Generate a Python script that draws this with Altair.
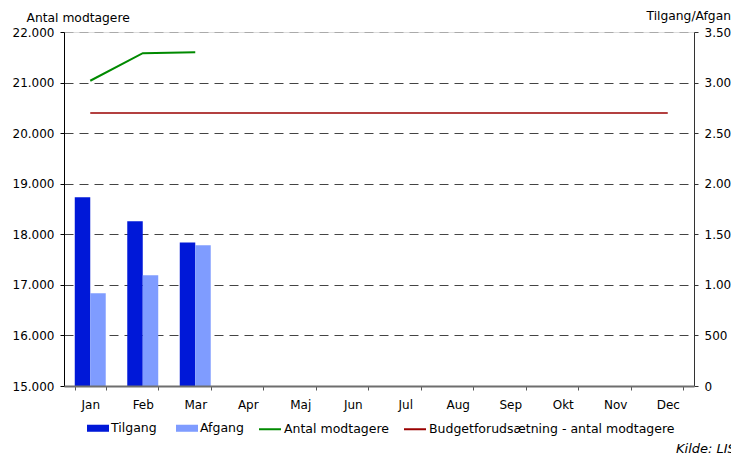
import altair as alt
import pandas as pd

months = ["Jan", "Feb", "Mar", "Apr", "Maj", "Jun", "Jul", "Aug", "Sep", "Okt", "Nov", "Dec"]

# Bars (right axis)
bar_months = ["Jan", "Feb", "Mar"]
tilgang = [1865, 1630, 1420]
afgang = [917, 1095, 1392]

# Lines (left axis)
antal_months = ["Jan", "Feb", "Mar"]
antal_modtagere = [21036, 21581, 21600]
budget = [20400, 20400, 20400, 20400, 20400, 20400, 20400, 20400, 20400, 20400, 20400, 20400]

bar_series = ["Tilgang", "Afgang"]
bar_colors = ["#0018d8", "#7f9cff"]
line_series = ["Antal modtagere", "Budgetforudsætning - antal modtagere"]
line_colors = ["#008a00", "#9a0000"]

left_ticks = [15000, 16000, 17000, 18000, 19000, 20000, 21000, 22000]
right_ticks = [0, 500, 1000, 1500, 2000, 2500, 3000, 3500]

bar_df = pd.DataFrame(
    [{"maaned": m, "serie": "Tilgang", "vaerdi": v} for m, v in zip(bar_months, tilgang)]
    + [{"maaned": m, "serie": "Afgang", "vaerdi": v} for m, v in zip(bar_months, afgang)]
)
line_df = pd.DataFrame(
    [{"maaned": m, "serie": line_series[0], "vaerdi": v} for m, v in zip(antal_months, antal_modtagere)]
    + [{"maaned": m, "serie": line_series[1], "vaerdi": v} for m, v in zip(months, budget)]
)

FONT = "DejaVu Sans"
dk_fmt = "replace(format(datum.value, ','), ',', '.')"

x_scale = alt.Scale(domain=months, paddingInner=0.41, paddingOuter=0.205)
x_axis = alt.Axis(
    title=None, labelAngle=0, tickBand="extent", domainColor="#6e6e6e", domainWidth=2,
    tickColor="#555555", tickSize=4, labelPadding=9, labelFont=FONT, labelFontSize=12,
    labelColor="#000000", grid=False, zindex=1,
)

lines = alt.Chart(line_df).mark_line().encode(
    x=alt.X("maaned:N", sort=months, scale=x_scale, axis=x_axis),
    y=alt.Y(
        "vaerdi:Q",
        scale=alt.Scale(domain=[15000, 22000], zero=False, nice=False),
        axis=alt.Axis(
            orient="left", values=left_ticks, labelExpr=dk_fmt,
            title="Antal modtagere", titleAngle=0, titleAlign="left", titleBaseline="alphabetic",
            titleX=-38, titleY=-11, titleFont=FONT, titleFontSize=12.3, titleFontWeight="normal",
            titleColor="#000000",
            labelFont=FONT, labelFontSize=12, labelColor="#000000", labelPadding=6,
            domainColor="#000000", tickColor="#000000", tickSize=4,
            grid=True, gridDash=[9, 6], gridWidth=1,
            gridColor=alt.condition("datum.value == 22000", alt.value("#aaaaaa"), alt.value("#444444")),
        ),
    ),
    stroke=alt.Stroke(
        "serie:N",
        scale=alt.Scale(domain=line_series, range=line_colors),
        legend=alt.Legend(
            title=None, orient="none", legendX=194, legendY=385, direction="horizontal",
            symbolType="stroke", symbolSize=484, symbolStrokeWidth=2, labelOffset=2,
            columnPadding=11, labelFont=FONT, labelFontSize=12.5, labelColor="#000000",
            labelLimit=400,
        ),
    ),
    strokeWidth=alt.StrokeWidth(
        "serie:N", scale=alt.Scale(domain=line_series, range=[2, 1.5]), legend=None
    ),
)

bars = alt.Chart(bar_df).mark_bar().encode(
    x=alt.X("maaned:N", sort=months, scale=x_scale, axis=x_axis),
    xOffset=alt.XOffset("serie:N", scale=alt.Scale(domain=bar_series, paddingInner=0)),
    y=alt.Y(
        "vaerdi:Q",
        scale=alt.Scale(domain=[0, 3500], nice=False),
        axis=alt.Axis(
            orient="right", values=right_ticks, labelExpr=dk_fmt,
            title="Tilgang/Afgang", titleAngle=0, titleAlign="left", titleBaseline="alphabetic",
            titleX=-48, titleY=-13, titleFont=FONT, titleFontSize=12.3, titleFontWeight="normal",
            titleColor="#000000",
            labelFont=FONT, labelFontSize=12, labelColor="#000000", labelPadding=6,
            domainColor="#333333", tickColor="#333333", tickSize=4, grid=False,
        ),
    ),
    color=alt.Color(
        "serie:N",
        scale=alt.Scale(domain=bar_series, range=bar_colors),
        sort=bar_series,
        legend=alt.Legend(
            title=None, orient="none", legendX=23, legendY=385, direction="horizontal",
            symbolType="M-1,-0.32H1V0.32H-1Z", symbolSize=484, symbolStrokeWidth=0,
            labelOffset=2, columnPadding=19, labelFont=FONT, labelFontSize=12.5,
            labelColor="#000000",
        ),
    ),
)

kilde = alt.Chart(pd.DataFrame({"t": ["Kilde: LIS"]})).mark_text(
    align="left", baseline="alphabetic", font=FONT, fontSize=13, fontStyle="italic", color="#000000"
).encode(x=alt.value(612), y=alt.value(421), text="t:N")

chart = (
    alt.layer(lines, bars, kilde)
    .resolve_scale(y="independent", color="independent", stroke="independent")
    .properties(
        width=630, height=354,
        autosize=alt.AutoSizeParams(type="none"),
        padding={"left": 56, "top": 24, "right": 37, "bottom": 69},
    )
    .configure_view(stroke=None)
    .configure(background="#ffffff")
)

chart.save("out.html", embed_options={"renderer": "svg", "actions": False})
